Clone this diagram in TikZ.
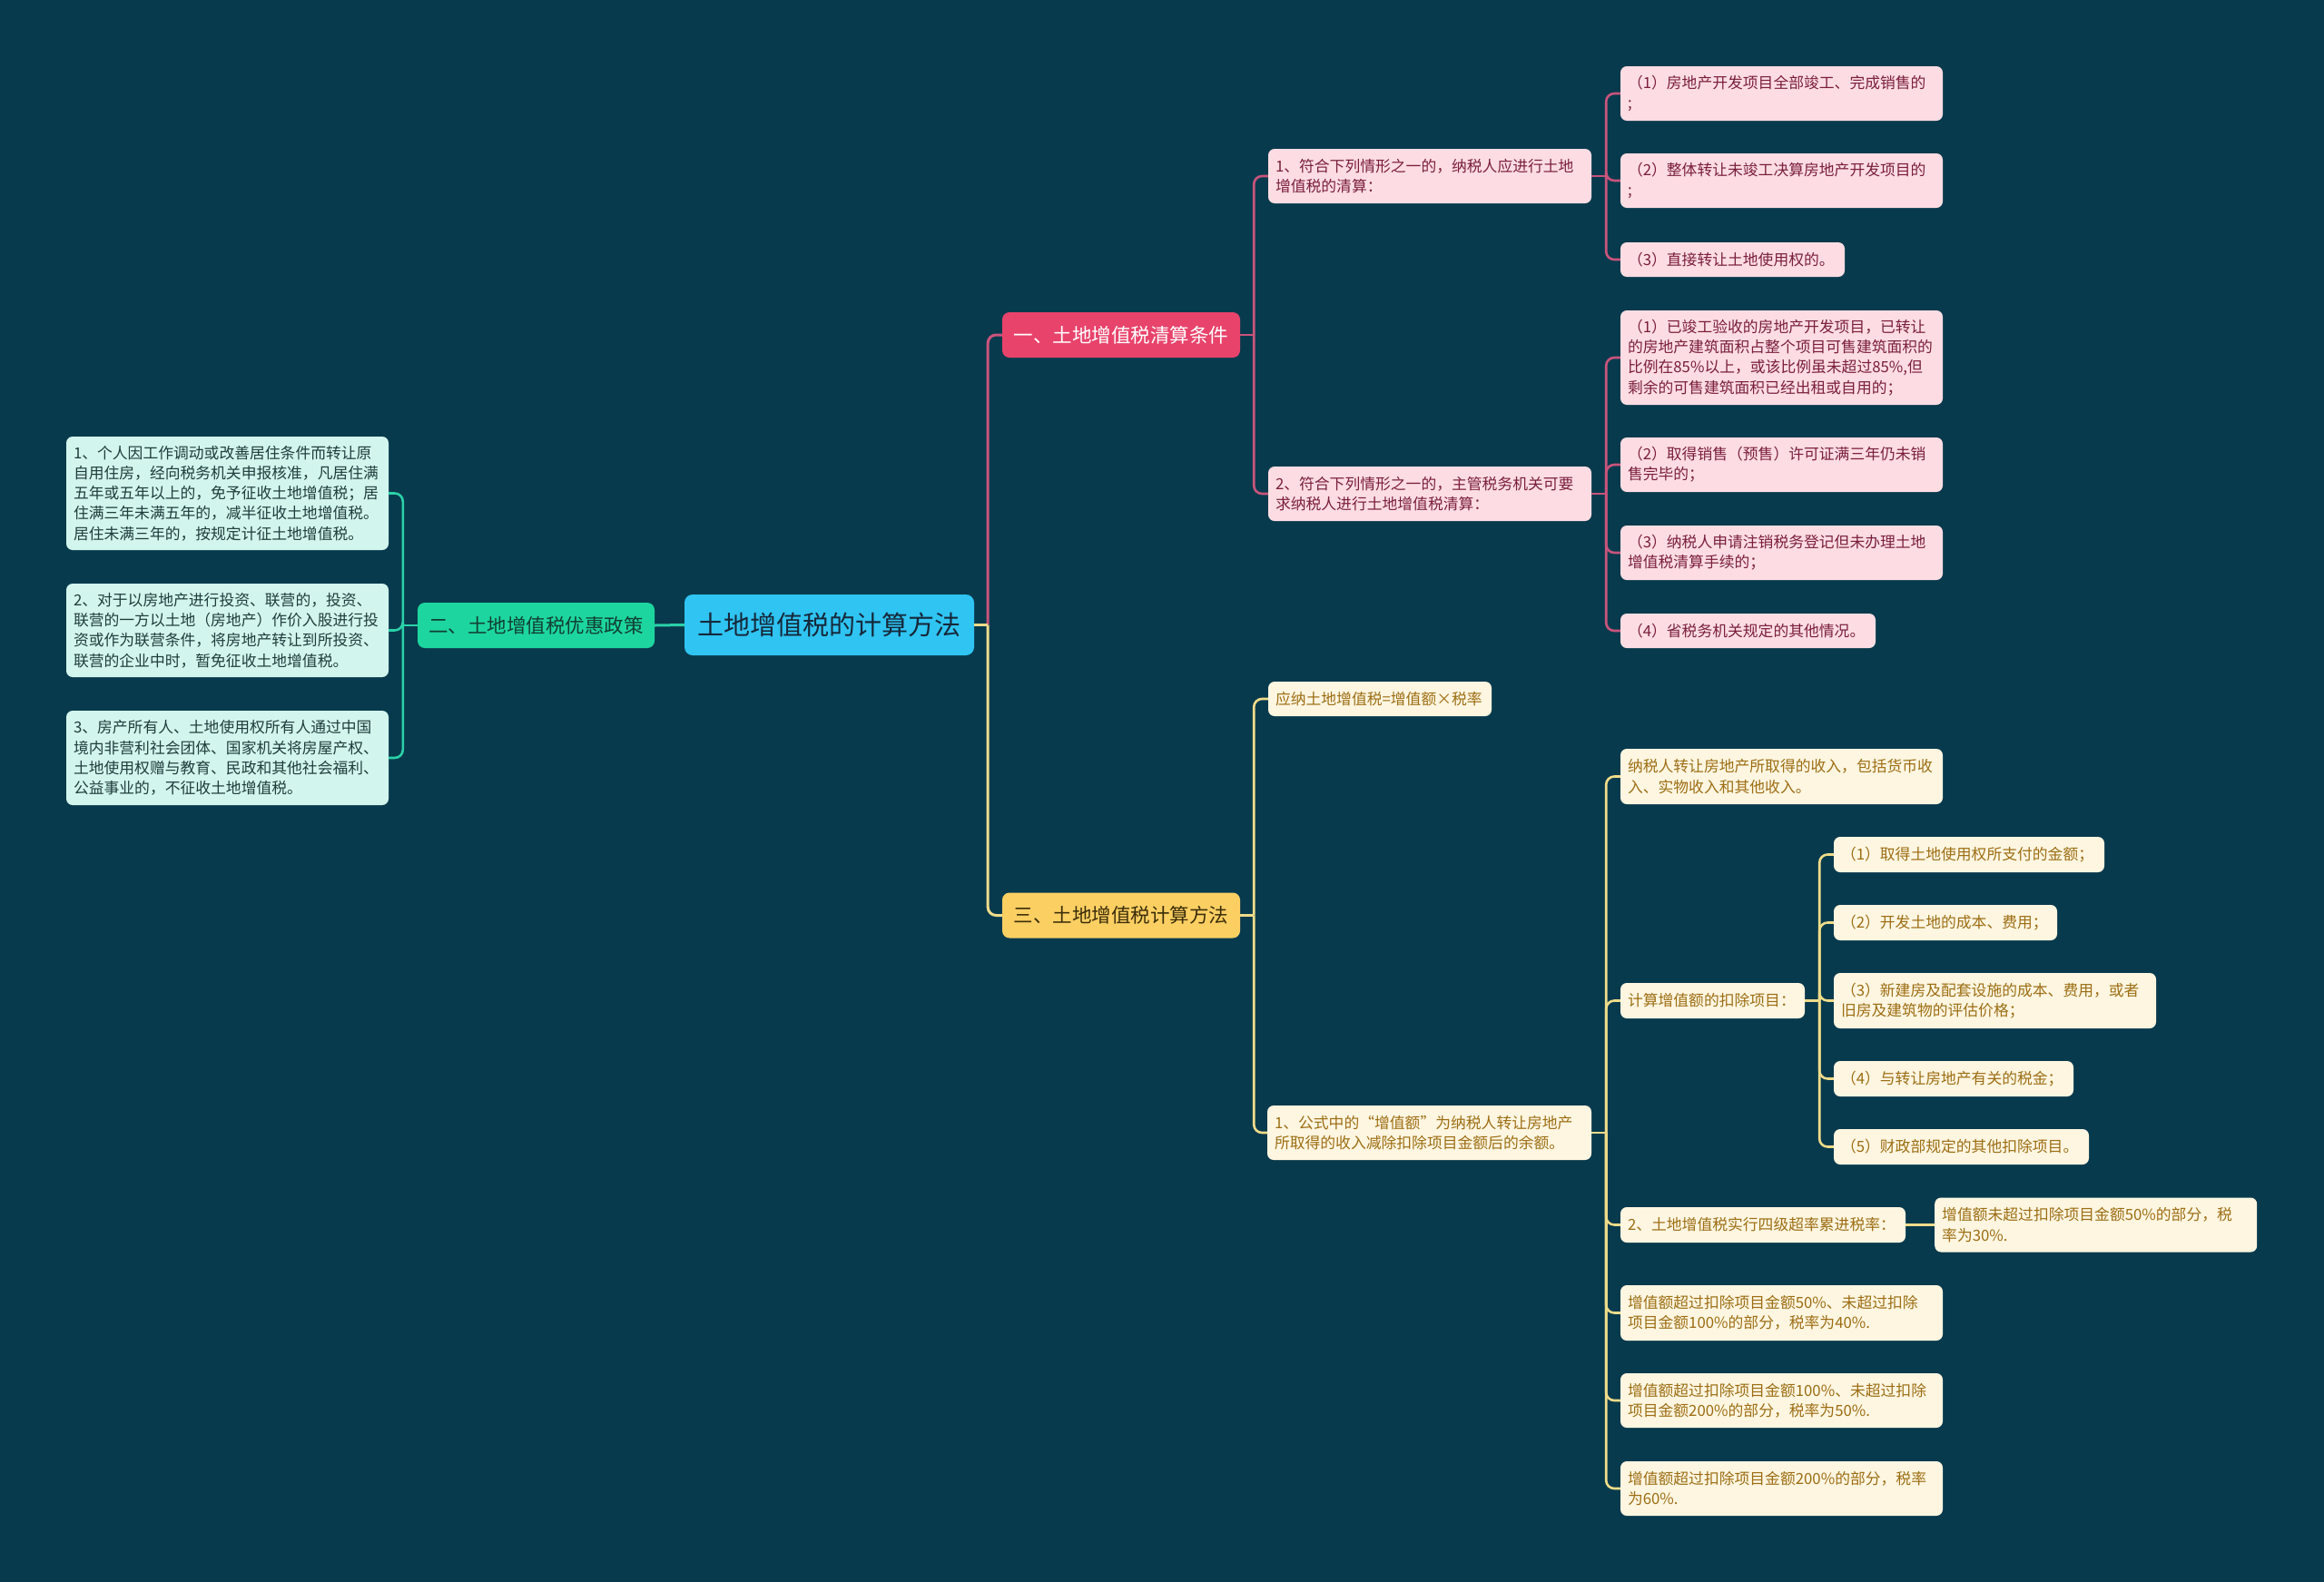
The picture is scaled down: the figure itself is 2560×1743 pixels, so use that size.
\documentclass[tikz,border=0pt]{standalone}
\usepackage{fontspec}
\newfontfamily\cjk{Noto Sans CJK SC}
\definecolor{bg}{HTML}{083A4D}
\definecolor{rootfill}{HTML}{2FC4F2}
\definecolor{roottext}{HTML}{16283A}
\definecolor{pinkfill}{HTML}{E8436B}
\definecolor{pinkleaf}{HTML}{FDDDE3}
\definecolor{pinktext}{HTML}{7A1F3D}
\definecolor{pinkline}{HTML}{C9547C}
\definecolor{yelfill}{HTML}{FBCF62}
\definecolor{yeltext}{HTML}{3B2D0A}
\definecolor{yelleaf}{HTML}{FEF6E1}
\definecolor{yelleaftext}{HTML}{9C6E14}
\definecolor{yelline}{HTML}{EFDC8A}
\definecolor{grnfill}{HTML}{1DD69F}
\definecolor{grntext}{HTML}{123F33}
\definecolor{grnleaf}{HTML}{D2F6EE}
\definecolor{grnleaftext}{HTML}{1F3D3C}
\definecolor{grnline}{HTML}{2BD1A8}
\begin{document}
\begin{tikzpicture}[x=1pt,y=-1pt,
  box/.style={rounded corners=7pt, inner xsep=8pt, inner ysep=0pt, align=left, anchor=center},
  leaffont/.style={font=\cjk\fontsize{16.8}{22.3}\selectfont},
  pleaf/.style={box, leaffont, fill=pinkleaf, text=pinktext},
  yleaf/.style={box, leaffont, fill=yelleaf, text=yelleaftext},
  gleaf/.style={box, leaffont, fill=grnleaf, text=grnleaftext},
  branch/.style={rounded corners=8pt, inner sep=0pt, align=center, font=\cjk\fontsize{21.5}{26}\selectfont},
  pline/.style={draw=pinkline, line width=2.6pt, rounded corners=9pt},
  yline/.style={draw=yelline, line width=2.6pt, rounded corners=9pt},
  gline/.style={draw=grnline, line width=2.6pt, rounded corners=9pt}
]
\fill[bg] (0,0) rectangle (2560,1743);
\useasboundingbox (0,0) rectangle (2560,1743);

% root and branches
\node[rounded corners=9pt, inner sep=0pt, fill=rootfill, text=roottext, minimum width=319pt, minimum height=67pt, font=\cjk\fontsize{29}{34}\selectfont] (root) at (913.5,688.5) {土地增值税的计算方法};
\node[branch, fill=pinkfill, text=white, minimum width=262pt, minimum height=50pt] (b1) at (1235,369) {一、土地增值税清算条件};
\node[branch, fill=yelfill, text=yeltext, minimum width=262pt, minimum height=50pt] (b3) at (1235,1008.5) {三、土地增值税计算方法};
\node[branch, fill=grnfill, text=grntext, minimum width=261pt, minimum height=50pt] (b2) at (590.5,689) {二、土地增值税优惠政策};

% green leaves
\node[gleaf, text width=339pt, minimum height=125pt] (g1) at (250.5,543.5) {1、个人因工作调动或改善居住条件而转让原\\自用住房，经向税务机关申报核准，凡居住满\\五年或五年以上的，免予征收土地增值税；居\\住满三年未满五年的，减半征收土地增值税。\\居住未满三年的，按规定计征土地增值税。};
\node[gleaf, text width=339pt, minimum height=103pt] (g2) at (250.5,694.5) {2、对于以房地产进行投资、联营的，投资、\\联营的一方以土地（房地产）作价入股进行投\\资或作为联营条件，将房地产转让到所投资、\\联营的企业中时，暂免征收土地增值税。};
\node[gleaf, text width=339pt, minimum height=104pt] (g3) at (250.5,835) {3、房产所有人、土地使用权所有人通过中国\\境内非营利社会团体、国家机关将房屋产权、\\土地使用权赠与教育、民政和其他社会福利、\\公益事业的，不征收土地增值税。};

% pink level 2 and leaves
\node[pleaf, text width=340pt, minimum height=60pt] (p1) at (1575,194) {1、符合下列情形之一的，纳税人应进行土地\\增值税的清算：};
\node[pleaf, text width=339pt, minimum height=60pt] (p1a) at (1962.5,103) {（1）房地产开发项目全部竣工、完成销售的\\;};
\node[pleaf, text width=339pt, minimum height=60pt] (p1b) at (1962.5,199) {（2）整体转让未竣工决算房地产开发项目的\\;};
\node[pleaf, text width=231pt, minimum height=38pt] (p1c) at (1908.5,286) {（3）直接转让土地使用权的。};
\node[pleaf, text width=340pt, minimum height=60pt] (p2) at (1575,544) {2、符合下列情形之一的，主管税务机关可要\\求纳税人进行土地增值税清算：};
\node[pleaf, text width=339pt, minimum height=104pt] (p2a) at (1962.5,394) {（1）已竣工验收的房地产开发项目，已转让\\的房地产建筑面积占整个项目可售建筑面积的\\比例在85\%以上，或该比例虽未超过85\%,但\\剩余的可售建筑面积已经出租或自用的；};
\node[pleaf, text width=339pt, minimum height=60pt] (p2b) at (1962.5,512) {（2）取得销售（预售）许可证满三年仍未销\\售完毕的；};
\node[pleaf, text width=339pt, minimum height=60pt] (p2c) at (1962.5,609) {（3）纳税人申请注销税务登记但未办理土地\\增值税清算手续的；};
\node[pleaf, text width=265pt, minimum height=38pt] (p2d) at (1925.5,695) {（4）省税务机关规定的其他情况。};

% yellow level 2 and leaves
\node[yleaf, text width=230pt, minimum height=38pt] (y1) at (1520,770) {应纳土地增值税=增值额×税率};
\node[yleaf, text width=341pt, minimum height=60pt] (y2) at (1574.5,1248) {1、公式中的“增值额”为纳税人转让房地产\\所取得的收入减除扣除项目金额后的余额。};
\node[yleaf, text width=339pt, minimum height=61pt] (y2a) at (1962.5,855.5) {纳税人转让房地产所取得的收入，包括货币收\\入、实物收入和其他收入。};
\node[yleaf, text width=187pt, minimum height=39pt] (y2b) at (1886.5,1102.5) {计算增值额的扣除项目：};
\node[yleaf, text width=282pt, minimum height=39pt] (y2b1) at (2169,941.5) {（1）取得土地使用权所支付的金额；};
\node[yleaf, text width=230pt, minimum height=39pt] (y2b2) at (2143,1016.5) {（2）开发土地的成本、费用；};
\node[yleaf, text width=339pt, minimum height=61pt] (y2b3) at (2197.5,1102.5) {（3）新建房及配套设施的成本、费用，或者\\旧房及建筑物的评估价格；};
\node[yleaf, text width=248pt, minimum height=39pt] (y2b4) at (2152,1188.5) {（4）与转让房地产有关的税金；};
\node[yleaf, text width=265pt, minimum height=39pt] (y2b5) at (2160.5,1263.5) {（5）财政部规定的其他扣除项目。};
\node[yleaf, text width=298pt, minimum height=39pt] (y2c) at (1942,1349.5) {2、土地增值税实行四级超率累进税率：};
\node[yleaf, text width=339pt, minimum height=60pt, anchor=west] (y2c1) at (2131,1349.5) {增值额未超过扣除项目金额50\%的部分，税\\率为30\%.};
\node[yleaf, text width=339pt, minimum height=61pt] (y2d) at (1962.5,1446.5) {增值额超过扣除项目金额50\%、未超过扣除\\项目金额100\%的部分，税率为40\%.};
\node[yleaf, text width=339pt, minimum height=60pt] (y2e) at (1962.5,1543) {增值额超过扣除项目金额100\%、未超过扣除\\项目金额200\%的部分，税率为50\%.};
\node[yleaf, text width=339pt, minimum height=60pt] (y2f) at (1962.5,1640) {增值额超过扣除项目金额200\%的部分，税率\\为60\%.};

% junction coordinates
\coordinate (jr) at ([xshift=15pt]root.east);
\coordinate (jb1) at ([xshift=15pt]b1.east);
\coordinate (jb3) at ([xshift=15pt]b3.east);
\coordinate (jb2) at ([xshift=-16pt]b2.west);
\coordinate (jp1) at ([xshift=16pt]p1.east);
\coordinate (jp2) at ([xshift=16pt]p2.east);
\coordinate (jy2) at ([xshift=16pt]y2.east);
\coordinate (jy2b) at ([xshift=16pt]y2b.east);

% connectors: root
\draw[pline, line width=3pt] (jr) |- (b1.west);
\draw[yline, line width=3pt] (jr) |- (b3.west);
\draw[yline, line width=3pt] (root.east) -- (jr);
\draw[gline, line width=3pt] (root.west) -- (b2.east);

% green
\draw[gline] (b2.west) -- (jb2);
\foreach \n in {g1,g2,g3} \draw[gline] (jb2) |- (\n.east);

% pink
\draw[pline] (b1.east) -- (jb1);
\foreach \n in {p1,p2} \draw[pline] (jb1) |- (\n.west);
\draw[pline] (p1.east) -- (jp1);
\foreach \n in {p1a,p1b,p1c} \draw[pline] (jp1) |- (\n.west);
\draw[pline] (p2.east) -- (jp2);
\foreach \n in {p2a,p2b,p2c,p2d} \draw[pline] (jp2) |- (\n.west);

% yellow
\draw[yline] (b3.east) -- (jb3);
\foreach \n in {y1,y2} \draw[yline] (jb3) |- (\n.west);
\draw[yline] (y2.east) -- (jy2);
\foreach \n in {y2a,y2b,y2c,y2d,y2e,y2f} \draw[yline] (jy2) |- (\n.west);
\draw[yline] (y2b.east) -- (jy2b);
\foreach \n in {y2b1,y2b2,y2b3,y2b4,y2b5} \draw[yline] (jy2b) |- (\n.west);
\draw[yline] (y2c.east) -- (y2c1.west);
\end{tikzpicture}
\end{document}
